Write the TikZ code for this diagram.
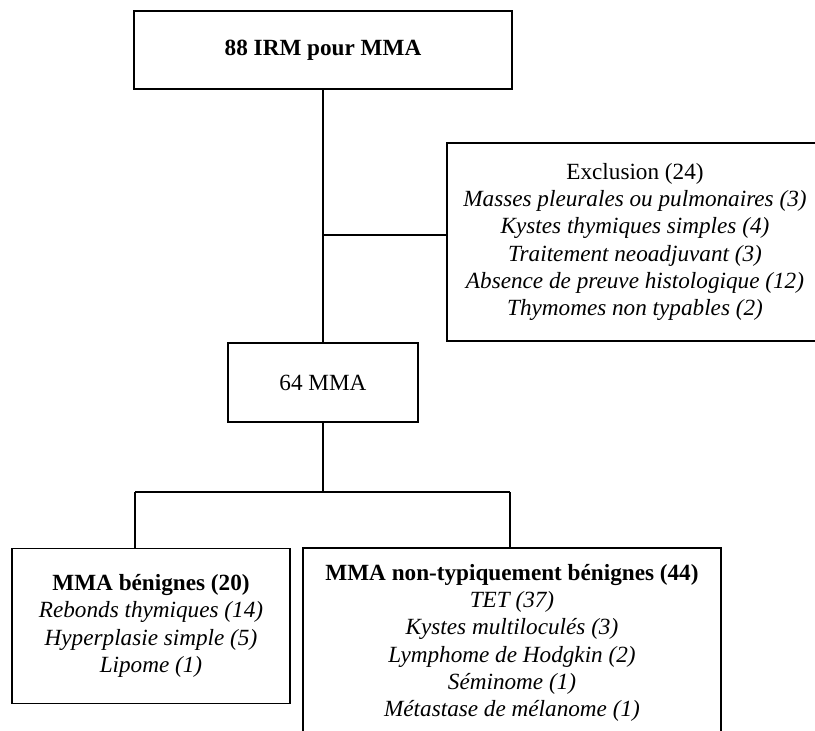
\documentclass[tikz,border=0pt]{standalone}
\usepackage{fontspec}
\setmainfont{Liberation Serif}
\tikzset{every picture/.style={line width=1.1pt}}
\tikzset{
  box/.style={draw, align=center, inner sep=0pt, font=\fontsize{17.4}{20.5}\selectfont},
}

\begin{document}
\begin{tikzpicture}[x=0.75pt,y=0.75pt,yscale=-1,xscale=1]
%set diagram size to 815 x 731
\clip (0,0) rectangle (815,731);

% Text Node
\node [box, minimum width=283.5pt, minimum height=58.5pt] (irm) at (323,50) {\textbf{88 IRM pour MMA}};
% Text Node
\node [box, minimum width=282pt, minimum height=148.5pt] (excl) at (635,242) {Exclusion (24)\\
  \textit{Masses pleurales ou pulmonaires (3)}\\
  \textit{Kystes thymiques simples (4)}\\
  \textit{Traitement neoadjuvant (3)}\\
  \textit{Absence de preuve histologique (12)}\\
  \textit{Thymomes non typables (2)}};
% Text Node
\node [box, minimum width=142.5pt, minimum height=59.25pt] (mma) at (323,382.5) {64 MMA};
% Text Node
\node [box, minimum width=208.5pt, minimum height=116.25pt] (benin) at (151,626) {\textbf{MMA bénignes (20)}\\
  \textit{Rebonds thymiques (14)}\\
  \textit{Hyperplasie simple (5)}\\
  \textit{Lipome (1)}};
% Text Node
\node [box, minimum width=313.5pt, minimum height=142.5pt] (nonbenin) at (512,643) {\textbf{MMA non-typiquement bénignes (44)}\\
  \textit{TET (37)}\\
  \textit{Kystes multiloculés (3)}\\
  \textit{Lymphome de Hodgkin (2)}\\
  \textit{Séminome (1)}\\
  \textit{Métastase de mélanome (1)}};

%Straight Lines
\coordinate (exjoin) at (323,235);
\coordinate (split) at (323,492);
\coordinate (splitl) at (135,492);
\coordinate (splitr) at (510,492);
\draw (irm.south) -- (mma.north);
\draw (exjoin) -- (exjoin -| excl.west);
\draw (mma.south) -- (split);
\draw (splitl) -- (splitr);
\draw (splitl) -- (splitl |- benin.north);
\draw (splitr) -- (splitr |- nonbenin.north);

\end{tikzpicture}
\end{document}
